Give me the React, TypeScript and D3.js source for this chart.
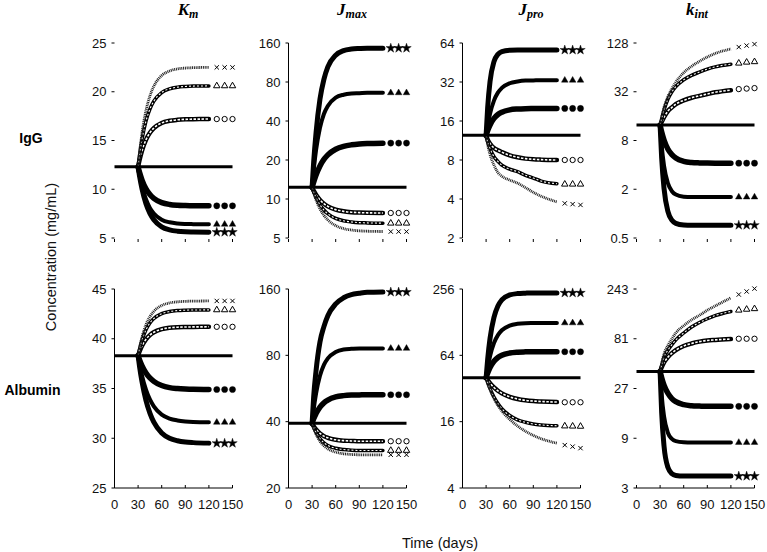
import React from 'react';
import * as d3 from 'd3';

// ---------------- DATA ----------------
const DAYS = [30, 32, 35, 40, 45, 50, 60, 70, 80, 90, 100, 120, 130, 140, 150];
const X_TICKS = [0, 30, 60, 90, 120, 150];
const PARAM_MAIN = ['K', 'J', 'J', 'k'];
const PARAM_SUB = ['m', 'max', 'pro', 'int'];
const PROTEINS = ['IgG', 'Albumin'];
// series order in every panel array below
const MARKERS = ['star', 'triFilled', 'circleFilled', 'circleOpen', 'triOpen', 'cross'];

const IGG_BASELINE = [12.3, 12.3, 12.4, 12.4];
const ALB_BASELINE = [38.3, 39.3, 40, 39.3];

const IGG_TICKS = [[5, 10, 15, 20, 25], [5, 10, 20, 40, 80, 160], [2, 4, 8, 16, 32, 64], [0.5, 2, 8, 32, 128]];
const ALB_TICKS = [[25, 30, 35, 40, 45], [20, 40, 80, 160], [4, 16, 64, 256], [3, 9, 27, 81, 243]];
const IGG_DOMAINS = [[5, 25], [5, 160], [2, 64], [0.5, 128]];
const ALB_DOMAINS = [[25, 45], [20, 160], [4, 256], [3, 243]];
const SCALE_TYPES = ['linear', 'log', 'log', 'log'];

const IGG_KM = [
  [12.3, 11.27, 10.02, 8.51, 7.52, 6.87, 6.15, 5.84, 5.7, 5.64, 5.62, 5.6, 5.6, 5.6, 5.6],
  [12.3, 11.39, 10.29, 8.97, 8.09, 7.52, 6.88, 6.61, 6.49, 6.44, 6.42, 6.4, 6.4, 6.4, 6.4],
  [12.3, 11.68, 10.94, 10.04, 9.45, 9.06, 8.63, 8.44, 8.36, 8.33, 8.31, 8.3, 8.3, 8.3, 8.3],
  [12.3, 13.05, 13.97, 15.07, 15.79, 16.27, 16.8, 17.02, 17.12, 17.17, 17.19, 17.2, 17.2, 17.2, 17.2],
  [12.3, 13.58, 15.13, 16.99, 18.22, 19.03, 19.92, 20.3, 20.47, 20.54, 20.58, 20.6, 20.6, 20.6, 20.6],
  [12.3, 13.87, 15.78, 18.06, 19.57, 20.57, 21.66, 22.13, 22.34, 22.43, 22.47, 22.5, 22.5, 22.5, 22.5],
];
const IGG_JMAX = [
  [12.3, 19.3, 32.4, 58.9, 83.9, 104.7, 128.9, 139.7, 143.6, 145.1, 146, 146, 146, 146, 146],
  [12.3, 16.7, 23.8, 35.5, 45.3, 52.3, 60.6, 63.8, 65.1, 65.5, 66, 66, 66, 66, 66],
  [12.3, 13.5, 15.3, 18.0, 20.2, 21.9, 24.2, 25.5, 26.2, 26.6, 26.8, 26.95, 27, 27, 27],
  [12.3, 11.6, 10.8, 9.84, 9.21, 8.78, 8.28, 8.03, 7.91, 7.85, 7.82, 7.8, 7.8, 7.8, 7.8],
  [12.3, 11.35, 10.27, 9.01, 8.22, 7.69, 7.08, 6.79, 6.65, 6.57, 6.54, 6.51, 6.5, 6.5, 6.5],
  [12.3, 11.14, 9.84, 8.38, 7.48, 6.89, 6.23, 5.91, 5.76, 5.68, 5.64, 5.61, 5.6, 5.6, 5.6],
];
const IGG_JPRO = [
  [12.4, 20.4, 32.3, 46.0, 52.3, 55.0, 56.3, 56.5, 56.5, 56.5, 56.5, 56.5, 56.5, 56.5, 56.5],
  [12.4, 14.8, 18.2, 23.0, 26.5, 28.8, 31.3, 32.3, 32.8, 32.9, 33, 33, 33, 33, 33],
  [12.4, 13.5, 14.9, 16.75, 17.95, 18.7, 19.5, 19.8, 19.93, 19.97, 20, 20, 20, 20, 20],
  [12.4, 11.5, 10.7, 9.9, 9.5, 9.2, 8.7, 8.4, 8.2, 8.1, 8.05, 8.0, 8.0, 8.0, 8.0],
  [12.4, 11.0, 9.8, 8.5, 7.8, 7.3, 6.8, 6.5, 6.1, 5.8, 5.5, 5.25, 5.2, 5.2, 5.2],
  [12.4, 10.5, 8.8, 7.3, 6.4, 6.0, 5.6, 5.3, 4.9, 4.5, 4.2, 3.8, 3.7, 3.65, 3.6],
];
const IGG_KINT = [
  [12.4, 4.83, 2.05, 1.06, 0.83, 0.758, 0.725, 0.72, 0.72, 0.72, 0.72, 0.72, 0.72, 0.72, 0.72],
  [12.4, 6.93, 3.89, 2.36, 1.89, 1.72, 1.62, 1.6, 1.6, 1.6, 1.6, 1.6, 1.6, 1.6, 1.6],
  [12.4, 10.2, 8.1, 6.25, 5.35, 4.86, 4.43, 4.28, 4.23, 4.21, 4.2, 4.2, 4.2, 4.2, 4.2],
  [12.4, 13.5, 15.5, 18.5, 20.5, 22.5, 25, 27, 28.5, 30, 31.5, 33.5, 34.5, 35, 35.5],
  [12.4, 14.8, 19, 26, 32, 37, 45, 51, 56, 61, 65, 70, 72, 74, 75],
  [12.4, 15.5, 20.5, 28, 35, 42, 55, 66, 76, 86, 95, 108, 114, 119, 124],
];
const ALB_KM = [
  [38.3, 37.13, 35.66, 33.81, 32.52, 31.61, 30.53, 30.0, 29.75, 29.62, 29.56, 29.51, 29.5, 29.5, 29.5],
  [38.3, 37.41, 36.29, 34.88, 33.9, 33.21, 32.38, 31.98, 31.79, 31.69, 31.64, 31.61, 31.6, 31.6, 31.6],
  [38.3, 37.85, 37.28, 36.57, 36.07, 35.72, 35.3, 35.09, 35.0, 34.95, 34.92, 34.9, 34.9, 34.9, 34.9],
  [38.3, 38.75, 39.29, 39.94, 40.37, 40.65, 40.96, 41.1, 41.16, 41.18, 41.19, 41.2, 41.2, 41.2, 41.2],
  [38.3, 39.01, 39.87, 40.9, 41.58, 42.03, 42.52, 42.73, 42.83, 42.87, 42.89, 42.9, 42.9, 42.9, 42.9],
  [38.3, 39.15, 40.18, 41.41, 42.22, 42.76, 43.35, 43.6, 43.71, 43.76, 43.78, 43.8, 43.8, 43.8, 43.8],
];
const ALB_JMAX = [
  [39.3, 52, 68, 92, 108, 121, 137, 146, 151, 153, 154.5, 155, 155, 155, 155],
  [39.3, 45.4, 53.6, 64.6, 72.4, 77.5, 82.9, 85.0, 85.6, 86, 86, 86, 86, 86, 86],
  [39.3, 41.2, 43.5, 46.6, 48.7, 50.1, 51.8, 52.5, 52.8, 52.9, 53, 53, 53, 53, 53],
  [39.3, 38.2, 36.9, 35.4, 34.4, 33.8, 33.1, 32.8, 32.7, 32.6, 32.6, 32.6, 32.6, 32.6, 32.6],
  [39.3, 37.7, 35.7, 33.5, 32.1, 31.2, 30.3, 29.9, 29.7, 29.6, 29.6, 29.6, 29.6, 29.6, 29.6],
  [39.3, 37.3, 35.1, 32.6, 31.1, 30.1, 29.1, 28.6, 28.4, 28.3, 28.3, 28.3, 28.3, 28.3, 28.3],
];
const ALB_JPRO = [
  [40, 59.1, 91.1, 141.5, 179.5, 203.7, 226, 232.8, 234.8, 236, 236, 236, 236, 236, 236],
  [40, 49.2, 62.8, 82.7, 97.7, 108.1, 119.2, 123.6, 125.3, 125.7, 126, 126, 126, 126, 126],
  [40, 44.1, 49.5, 56.5, 61.1, 64.1, 67.2, 68.4, 68.8, 69, 69, 69, 69, 69, 69],
  [40, 38.1, 35.7, 32.7, 30.5, 28.9, 26.9, 25.7, 25.0, 24.6, 24.4, 24.1, 24, 24, 24],
  [40, 36.2, 31.9, 26.8, 23.4, 21.0, 18.2, 16.6, 15.8, 15.25, 14.95, 14.7, 14.6, 14.55, 14.5],
  [40, 36, 31.5, 26, 22.5, 20, 16.8, 14.6, 13.1, 12, 11.2, 10.2, 9.8, 9.5, 9.2],
];
const ALB_KINT = [
  [39.3, 15.8, 7.56, 4.71, 4.12, 3.96, 3.9, 3.9, 3.9, 3.9, 3.9, 3.9, 3.9, 3.9, 3.9],
  [39.3, 23.4, 14.6, 10.1, 8.87, 8.44, 8.24, 8.2, 8.2, 8.2, 8.2, 8.2, 8.2, 8.2, 8.2],
  [39.3, 34.2, 29.0, 24.2, 21.6, 20.2, 18.9, 18.45, 18.3, 18.2, 18.2, 18.2, 18.2, 18.2, 18.2],
  [39.3, 43, 48, 54, 59, 63, 69, 73, 76, 78, 79, 80.5, 81, 81, 81],
  [39.3, 45, 54, 63, 71, 79, 92, 105, 116, 126, 135, 148, 152, 155, 157],
  [39.3, 47, 58, 70, 81, 92, 108, 123, 136, 152, 167, 200, 215, 230, 245],
];

const IGG_PANELS = [IGG_KM, IGG_JMAX, IGG_JPRO, IGG_KINT];
const ALB_PANELS = [ALB_KM, ALB_JMAX, ALB_JPRO, ALB_KINT];

// ---------------- LAYOUT ----------------
const W = 767;
const H = 552;
const COL_X0 = [114.5, 288.5, 462.5, 636.5];
const PANEL_W = 118;
const ROW_Y = [[238, 43], [488, 289]];
const Y_AXIS_LINE = [[false, true, true, false], [true, true, true, false]];
const TITLE_CX = [188, 352, 531, 697];
const SANS = "Arial, 'Liberation Sans', Helvetica, sans-serif";
const SERIF = "'Times New Roman', 'Liberation Serif', serif";
const TEXT_COLOR = '#111';

const SYM = {
  star: d3.symbol().type(d3.symbolStar).size(28)() as string,
  triFilled: d3.symbol().type(d3.symbolTriangle).size(19)() as string,
  circleFilled: d3.symbol().type(d3.symbolCircle).size(30)() as string,
  circleOpen: d3.symbol().type(d3.symbolCircle).size(22)() as string,
  triOpen: d3.symbol().type(d3.symbolTriangle).size(18)() as string,
  cross: d3.symbol().type(d3.symbolTimes).size(14)() as string,
};

function Band({ d, kind }: { d: string; kind: string }) {
  if (kind === 'star') return <path d={d} fill="none" stroke="#000" strokeWidth={5} strokeLinecap="round" />;
  if (kind === 'triFilled') return <path d={d} fill="none" stroke="#000" strokeWidth={4} strokeLinecap="round" />;
  if (kind === 'circleFilled') return <path d={d} fill="none" stroke="#000" strokeWidth={5.5} strokeLinecap="round" />;
  if (kind === 'circleOpen')
    return (
      <g>
        <path d={d} fill="none" stroke="#000" strokeWidth={4.5} strokeLinecap="round" />
        <path d={d} fill="none" stroke="#fff" strokeWidth={1.6} strokeDasharray="2.5 1.5" />
      </g>
    );
  if (kind === 'triOpen')
    return (
      <g>
        <path d={d} fill="none" stroke="#000" strokeWidth={3.5} strokeLinecap="round" />
        <path d={d} fill="none" stroke="#fff" strokeWidth={1.1} strokeDasharray="2 2" />
      </g>
    );
  return <path d={d} fill="none" stroke="#222" strokeWidth={2.8} strokeDasharray="1 0.8" />;
}

function Marker({ kind, x, y }: { kind: string; x: number; y: number }) {
  const p = (SYM as any)[kind];
  const open = kind === 'circleOpen' || kind === 'triOpen';
  if (kind === 'cross')
    return <path d={p} transform={`translate(${x},${y})`} fill="none" stroke="#000" strokeWidth={1} />;
  return (
    <path
      d={p}
      transform={`translate(${x},${y})`}
      fill={open ? '#fff' : '#000'}
      stroke="#000"
      strokeWidth={open ? 1 : 0.4}
    />
  );
}

function Panel({ row, col }: { row: number; col: number }) {
  const x0 = COL_X0[col];
  const [yB, yT] = ROW_Y[row];
  const domain = (row === 0 ? IGG_DOMAINS : ALB_DOMAINS)[col];
  const ticks = (row === 0 ? IGG_TICKS : ALB_TICKS)[col];
  const series = (row === 0 ? IGG_PANELS : ALB_PANELS)[col];
  const base = (row === 0 ? IGG_BASELINE : ALB_BASELINE)[col];
  const x = d3.scaleLinear().domain([0, 150]).range([x0, x0 + PANEL_W]);
  const y =
    SCALE_TYPES[col] === 'log'
      ? d3.scaleLog().domain(domain).range([yB, yT])
      : d3.scaleLinear().domain(domain).range([yB, yT]);
  const line = d3
    .line<number>()
    .x((_, i) => x(DAYS[i]))
    .y((v) => y(v))
    .curve(d3.curveMonotoneX);
  const nDense = DAYS.indexOf(120) + 1;

  return (
    <g>
      {Y_AXIS_LINE[row][col] && <line x1={x0} x2={x0} y1={yT} y2={yB} stroke="#000" strokeWidth={1} />}
      {ticks.map((t) => (
        <g key={t}>
          <line x1={x0 - 3} x2={x0} y1={y(t)} y2={y(t)} stroke="#000" strokeWidth={1} />
          <text x={x0 - 8} y={y(t)} dy="0.35em" textAnchor="end" fontFamily={SANS} fontSize={13} fill={TEXT_COLOR}>
            {t}
          </text>
        </g>
      ))}
      {row === 1 && <line x1={x0} x2={x0 + PANEL_W} y1={yB} y2={yB} stroke="#000" strokeWidth={1} />}
      {X_TICKS.map((t) => (
        <g key={'x' + t}>
          {row === 0 ? (
            <line x1={x(t)} x2={x(t)} y1={yB + 1} y2={yB + 4} stroke="#000" strokeWidth={1} />
          ) : (
            <line x1={x(t)} x2={x(t)} y1={yB - 3} y2={yB} stroke="#000" strokeWidth={1} />
          )}
          {row === 1 && (
            <text x={x(t)} y={yB + 21} textAnchor="middle" fontFamily={SANS} fontSize={13} fill={TEXT_COLOR}>
              {t}
            </text>
          )}
        </g>
      ))}
      {series.map((vals, si) => {
        const kind = MARKERS[si];
        const dense = vals.slice(0, nDense);
        return (
          <g key={kind}>
            <Band d={line(dense) as string} kind={kind} />
            {vals.slice(nDense).map((v, j) => (
              <Marker key={j} kind={kind} x={x(DAYS[nDense + j])} y={y(v)} />
            ))}
          </g>
        );
      })}
      <line x1={x(0)} x2={x(150)} y1={y(base)} y2={y(base)} stroke="#000" strokeWidth={3} />
    </g>
  );
}

export default function App() {
  return (
    <div style={{ position: 'absolute', left: 0, top: 0, background: '#fff' }}>
      <svg width={W} height={H} style={{ display: 'block', background: '#fff' }}>
        {PARAM_MAIN.map((m, i) => (
          <text
            key={m + i}
            x={TITLE_CX[i]}
            y={15}
            textAnchor="middle"
            fontFamily={SERIF}
            fontWeight="bold"
            fontStyle="italic"
            fontSize={17}
            fill="#000"
          >
            {m}
            <tspan fontSize={12} dy={3}>
              {PARAM_SUB[i]}
            </tspan>
          </text>
        ))}
        <text x={31} y={143} textAnchor="middle" fontFamily={SANS} fontWeight="bold" fontSize={14} fill="#000">
          {PROTEINS[0]}
        </text>
        <text x={32.5} y={395} textAnchor="middle" fontFamily={SANS} fontWeight="bold" fontSize={14} fill="#000">
          {PROTEINS[1]}
        </text>
        <text
          transform="translate(56,257) rotate(-90)"
          textAnchor="middle"
          fontFamily={SANS}
          fontSize={14.5}
          fill={TEXT_COLOR}
        >
          Concentration (mg/mL)
        </text>
        <text x={440} y={548} textAnchor="middle" fontFamily={SANS} fontSize={14.5} fill={TEXT_COLOR}>
          Time (days)
        </text>
        {[0, 1].map((r) => [0, 1, 2, 3].map((c) => <Panel key={`${r}-${c}`} row={r} col={c} />))}
      </svg>
    </div>
  );
}
